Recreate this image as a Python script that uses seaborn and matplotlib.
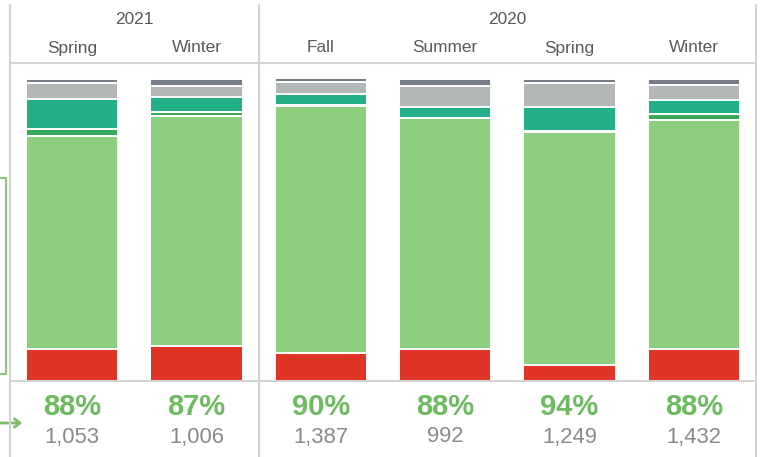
import matplotlib
matplotlib.use("Agg")
import matplotlib.pyplot as plt
import matplotlib.transforms as mtransforms
from matplotlib.lines import Line2D
from matplotlib.patches import Rectangle, FancyArrowPatch
import numpy as np
import pandas as pd
import seaborn as sns

# ---------------- data ----------------
years = ["2021", "2021", "2020", "2020", "2020", "2020"]
seasons = ["Spring", "Winter", "Fall", "Summer", "Spring", "Winter"]
pct_labels = ["88%", "87%", "90%", "88%", "94%", "88%"]
count_labels = ["1,053", "1,006", "1,387", "992", "1,249", "1,432"]

# stacked segments (percent of bar), bottom to top
seg_red = [10.5, 11.5, 9.1, 10.4, 5.3, 10.4]
seg_lightgreen = [70.6, 76.2, 82.0, 76.5, 77.2, 76.0]
seg_darkgreen = [2.3, 1.5, 0.3, 0.3, 0.3, 1.9]
seg_teal = [10.1, 4.8, 3.7, 3.5, 7.8, 4.8]
seg_gray = [5.3, 3.8, 3.9, 7.1, 8.0, 4.8]
seg_darkgray = [1.2, 2.2, 1.3, 2.2, 1.3, 2.2]

segments = [seg_red, seg_lightgreen, seg_darkgreen, seg_teal, seg_gray, seg_darkgray]
seg_colors = ["#e03426", "#8dcf7f", "#3aa85a", "#23b089", "#b4b7b8", "#767d89"]

# ---------------- figure ----------------
sns.set_theme(style="white")
plt.rcParams["font.family"] = ["Liberation Sans", "DejaVu Sans"]

W, H = 763, 457
fig = plt.figure(figsize=(W / 100, H / 100), dpi=100)


def fx(x):
    return x / W


def fy(y):
    return 1 - y / H


ax_left, ax_right = 10, 756
ax_top, ax_bot = 63, 380.5
ax = fig.add_axes([fx(ax_left), fy(ax_bot), fx(ax_right - ax_left), (ax_bot - ax_top) / H])

ids = [f"{y} {s}" for y, s in zip(years, seasons)]
bottom = np.zeros(len(ids))
for vals, col in zip(segments, seg_colors):
    df = pd.DataFrame({"id": ids, "val": vals})
    sns.barplot(data=df, x="id", y="val", order=ids, color=col, bottom=bottom,
                width=0.74, edgecolor="white", linewidth=1.4, saturation=1,
                errorbar=None, ax=ax)
    bottom = bottom + np.array(vals)

top_px = 79
ax.set_ylim(0, 100 * (ax_bot - ax_top) / (ax_bot - top_px))
ax.set_xlim(-0.5, len(ids) - 0.5)
ax.axis("off")

# ---------------- grid lines ----------------
line_col = "#d3d3d3"
for x in [ax_left, 258.5, ax_right]:
    fig.add_artist(Line2D([fx(x), fx(x)], [fy(5), fy(457)], color=line_col, lw=1.5))
for y in [63, 381]:
    fig.add_artist(Line2D([fx(ax_left), fx(ax_right)], [fy(y), fy(y)], color=line_col, lw=1.5))

# ---------------- texts ----------------
blend = mtransforms.blended_transform_factory(ax.transData, fig.transFigure)
fig.text(fx((ax_left + 258.5) / 2), fy(20), "2021", ha="center", va="center",
         fontsize=12.4, color="#595959")
fig.text(fx((258.5 + ax_right) / 2), fy(20), "2020", ha="center", va="center",
         fontsize=12.4, color="#595959")
for i in range(len(ids)):
    ax.text(i, fy(48), seasons[i], transform=blend, ha="center", va="center",
            fontsize=12.4, color="#595959")
    ax.text(i, fy(407), pct_labels[i], transform=blend, ha="center", va="center",
            fontsize=21, fontweight="bold", color="#6dbb5f")
    ax.text(i, fy(437), count_labels[i], transform=blend, ha="center", va="center",
            fontsize=15.8, color="#8a8a8a")

# ---------------- left decoration (cropped box and arrow) ----------------
fig.add_artist(Rectangle((fx(-20), fy(374)), fx(26), (374 - 178) / H,
                         fill=False, edgecolor="#8dc77b", lw=1.5))
fig.add_artist(FancyArrowPatch((fx(-2), fy(423)), (fx(25), fy(423)),
                               arrowstyle="->,head_length=4,head_width=3",
                               color="#7cbf68", lw=2))

fig.savefig("out.png", dpi=100)
